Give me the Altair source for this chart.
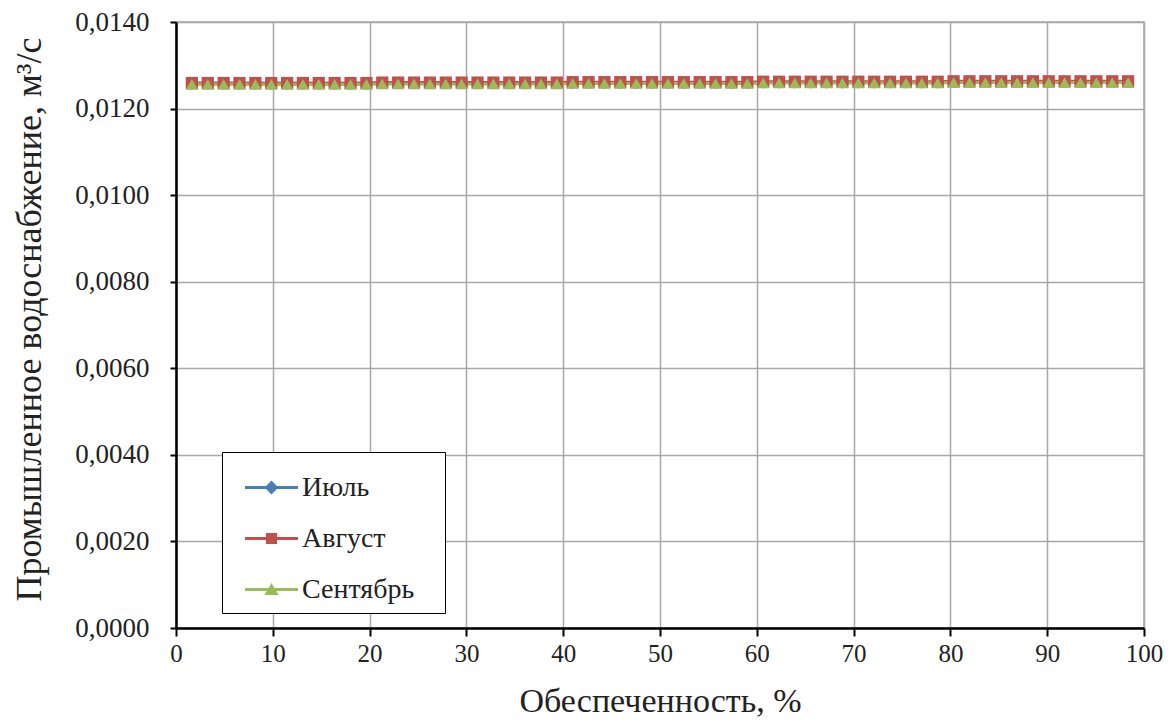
import altair as alt
import pandas as pd

series_names = ["Июль", "Август", "Сентябрь"]
series_colors = ["#4A7EBB", "#C0504D", "#9BBB59"]

prob = [1.64, 3.28, 4.92, 6.56, 8.20, 9.84, 11.48, 13.11, 14.75, 16.39,
        18.03, 19.67, 21.31, 22.95, 24.59, 26.23, 27.87, 29.51, 31.15, 32.79,
        34.43, 36.07, 37.70, 39.34, 40.98, 42.62, 44.26, 45.90, 47.54, 49.18,
        50.82, 52.46, 54.10, 55.74, 57.38, 59.02, 60.66, 62.30, 63.93, 65.57,
        67.21, 68.85, 70.49, 72.13, 73.77, 75.41, 77.05, 78.69, 80.33, 81.97,
        83.61, 85.25, 86.89, 88.52, 90.16, 91.80, 93.44, 95.08, 96.72, 98.36]

july = [0.01257, 0.01257, 0.01257, 0.01257, 0.01257, 0.01257, 0.01257, 0.01257, 0.01257, 0.01257,
        0.01257, 0.01257, 0.01258, 0.01258, 0.01258, 0.01258, 0.01258, 0.01258, 0.01258, 0.01258,
        0.01258, 0.01258, 0.01258, 0.01258, 0.01259, 0.01259, 0.01259, 0.01259, 0.01259, 0.01259,
        0.01259, 0.01259, 0.01259, 0.01259, 0.01259, 0.01259, 0.01260, 0.01260, 0.01260, 0.01260,
        0.01260, 0.01260, 0.01260, 0.01260, 0.01260, 0.01260, 0.01260, 0.01260, 0.01261, 0.01261,
        0.01261, 0.01261, 0.01261, 0.01261, 0.01261, 0.01261, 0.01261, 0.01261, 0.01261, 0.01261]

august = [0.01259, 0.01259, 0.01259, 0.01259, 0.01259, 0.01259, 0.01259, 0.01259, 0.01259, 0.01259,
          0.01259, 0.01259, 0.01260, 0.01260, 0.01260, 0.01260, 0.01260, 0.01260, 0.01260, 0.01260,
          0.01260, 0.01260, 0.01260, 0.01260, 0.01261, 0.01261, 0.01261, 0.01261, 0.01261, 0.01261,
          0.01261, 0.01261, 0.01261, 0.01261, 0.01261, 0.01261, 0.01262, 0.01262, 0.01262, 0.01262,
          0.01262, 0.01262, 0.01262, 0.01262, 0.01262, 0.01262, 0.01262, 0.01262, 0.01263, 0.01263,
          0.01263, 0.01263, 0.01263, 0.01263, 0.01263, 0.01263, 0.01263, 0.01263, 0.01263, 0.01263]

september = [0.01256, 0.01256, 0.01256, 0.01256, 0.01256, 0.01256, 0.01256, 0.01256, 0.01256, 0.01256,
             0.01256, 0.01256, 0.01257, 0.01257, 0.01257, 0.01257, 0.01257, 0.01257, 0.01257, 0.01257,
             0.01257, 0.01257, 0.01257, 0.01257, 0.01258, 0.01258, 0.01258, 0.01258, 0.01258, 0.01258,
             0.01258, 0.01258, 0.01258, 0.01258, 0.01258, 0.01258, 0.01259, 0.01259, 0.01259, 0.01259,
             0.01259, 0.01259, 0.01259, 0.01259, 0.01259, 0.01259, 0.01259, 0.01259, 0.01260, 0.01260,
             0.01260, 0.01260, 0.01260, 0.01260, 0.01260, 0.01260, 0.01260, 0.01260, 0.01260, 0.01260]

x_ticks = [0, 10, 20, 30, 40, 50, 60, 70, 80, 90, 100]
y_ticks = [0.0, 0.002, 0.004, 0.006, 0.008, 0.010, 0.012, 0.014]

rows = []
for name, vals in zip(series_names, [july, august, september]):
    for p, v in zip(prob, vals):
        rows.append({"p": p, "v": v, "series": name})
df = pd.DataFrame(rows)

FONT = "Liberation Serif"
GRID = "#a8a8a8"

x_enc = alt.X("p:Q", scale=alt.Scale(domain=[0, 100], nice=False),
              axis=alt.Axis(values=x_ticks, title="Обеспеченность, %",
                            labelFont=FONT, titleFont=FONT,
                            labelFontSize=25, titleFontSize=34, tickSize=8,
                            tickWidth=2, tickColor="black", domainColor="black",
                            domainWidth=2.5, labelColor="#222222", titleColor="#222222",
                            labelPadding=5, titlePadding=18, titleFontWeight="normal",
                            gridColor=GRID, gridWidth=1.5, labelFlush=False))
y_enc = alt.Y("v:Q", scale=alt.Scale(domain=[0, 0.014], nice=False),
              axis=alt.Axis(values=y_ticks, title="Промышленное  водоснабжение, м³/с",
                            labelExpr="replace(format(datum.value, '.4f'), '.', ',')",
                            labelFont=FONT, titleFont=FONT,
                            labelFontSize=27, titleFontSize=36, tickSize=6,
                            tickWidth=2, tickColor="black", domainColor="black",
                            domainWidth=2.5, labelColor="#222222", titleColor="#222222",
                            labelPadding=21, titleFontWeight="normal",
                            titleX=-136, titleY=297, titleBaseline="alphabetic",
                            titleAlign="center", titleAngle=270,
                            gridColor=GRID, gridWidth=1.5, labelFlush=False))

color_scale = alt.Scale(domain=series_names, range=series_colors)

lines = alt.Chart(df).mark_line(strokeWidth=3).encode(
    x=x_enc, y=y_enc,
    color=alt.Color("series:N", scale=color_scale, legend=None),
    detail="series:N",
)

points = alt.Chart(df).mark_point(filled=True, opacity=1, size=150).encode(
    x="p:Q", y="v:Q",
    color=alt.Color("series:N", scale=color_scale, legend=None),
    shape=alt.Shape("series:N",
                    scale=alt.Scale(domain=series_names,
                                    range=["diamond", "square", "triangle-up"]),
                    legend=None),
)

line_part = "M-1,-0.055L1,-0.055L1,0.055L-1,0.055Z"
legend_paths = [
    line_part + "M0,-0.26L0.26,0L0,0.26L-0.26,0Z",
    line_part + "M-0.21,-0.21L0.21,-0.21L0.21,0.21L-0.21,0.21Z",
    line_part + "M0,-0.25L0.27,0.21L-0.27,0.21Z",
]

PAD_CHAR = "\u2800"
legend = alt.Legend(orient="none", legendX=46, legendY=430, title=None,
                    strokeColor="black", fillColor="white", padding=9,
                    symbolSize=2809, symbolStrokeWidth=0, symbolOpacity=1,
                    symbolOffset=14, labelFontSize=28, labelColor="#222222",
                    labelFont=FONT, labelOffset=4, rowPadding=10,
                    labelExpr="datum.label + '" + PAD_CHAR + "'", labelLimit=400)

legend_layer = alt.Chart(df).mark_point(filled=True, opacity=0).encode(
    x="p:Q", y="v:Q",
    color=alt.Color("series:N", scale=color_scale, legend=legend,
                    sort=series_names),
    shape=alt.Shape("series:N",
                    scale=alt.Scale(domain=series_names, range=legend_paths),
                    legend=legend, sort=series_names),
)

chart = alt.layer(lines, points, legend_layer).resolve_scale(
    color="independent", shape="independent"
).properties(
    width=968, height=606,
    autosize=alt.AutoSizeParams(type="none"),
    padding={"left": 168, "top": 14, "right": 19, "bottom": 95},
    background="white",
).configure(font=FONT).configure_view(stroke=GRID, strokeWidth=1.5)

chart.save("out.html", embed_options={"renderer": "svg", "actions": False})
